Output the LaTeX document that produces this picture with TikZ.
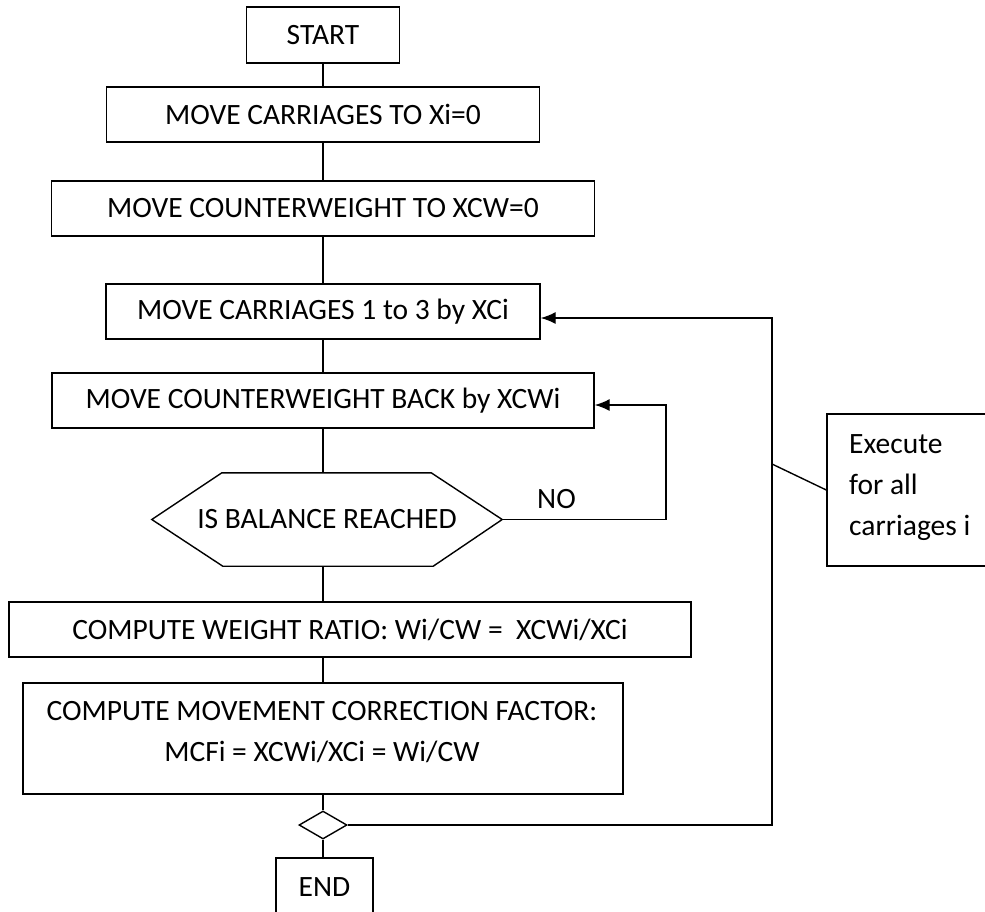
\documentclass[tikz,border=0pt]{standalone}
\usepackage{fontspec}
\setmainfont{Carlito}
\usetikzlibrary{arrows.meta,shapes.geometric}
\begin{document}
\begin{tikzpicture}[x=1pt,y=-1pt,
  every node/.style={font=\fontsize{29.5}{41}\selectfont, inner sep=0pt},
  box/.style={draw, line width=1.4pt, rectangle},
  conn/.style={line width=1.4pt},
  arr/.style={line width=1.4pt, -{Latex[length=15pt,width=12pt]}}]
\useasboundingbox (0,0) rectangle (985,911);
\clip (0,0) rectangle (985,911);
\node[box, minimum width=153pt, minimum height=56pt] (start) at (323,35) {START};
\node[box, minimum width=433pt, minimum height=55pt] (b1) at (323,114.5) {MOVE CARRIAGES TO Xi=0};
\node[box, minimum width=543pt, minimum height=55pt] (b2) at (323,208.5) {MOVE COUNTERWEIGHT TO XCW=0};
\node[box, minimum width=434pt, minimum height=55pt] (b3) at (323,311.5) {MOVE CARRIAGES 1 to 3 by XCi};
\node[box, minimum width=542pt, minimum height=55pt] (b4) at (323,400.5) {MOVE COUNTERWEIGHT BACK by XCWi};
\node[minimum width=350pt, minimum height=93pt] (hex) at (327,519.5) {IS BALANCE REACHED};
\draw[conn] (hex.west) -- ([xshift=70pt]hex.north west) -- ([xshift=-71pt]hex.north east)
  -- (hex.east) -- ([xshift=-69pt]hex.south east) -- ([xshift=71pt]hex.south west) -- cycle;
\node[box, minimum width=682pt, minimum height=55pt] (b6) at (350,629.5) {COMPUTE WEIGHT RATIO: Wi/CW =\ \ XCWi/XCi};
\node[box, minimum width=600pt, minimum height=111pt] (b7) at (323,738.5) {};
\node[align=center] (b7t) at (322,732) {COMPUTE MOVEMENT CORRECTION FACTOR:\\MCFi = XCWi/XCi = Wi/CW};
\node[draw, line width=1.4pt, shape=diamond, minimum width=48pt, minimum height=28pt] (dia) at (323,825) {};
\node[box, minimum width=97pt, minimum height=58pt] (end) at (324.5,887) {END};
\node[box, minimum width=170pt, minimum height=152pt] (call) at (912,490) {};
\node[align=left, anchor=north west] (callt) at (849,434) {Execute\\for all\\carriages i};
\node[anchor=base west] (no) at (537,508) {NO};
% coordinates
\coordinate (c1) at (772,825);
\coordinate (c2) at (772,318);
\coordinate (c3) at (666,405);
\coordinate (c4) at (772,464);
% main flow
\draw[conn] (start.south) -- (b1.north);
\draw[conn] (b1.south) -- (b2.north);
\draw[conn] (b2.south) -- (b3.north);
\draw[conn] (b3.south) -- (b4.north);
\draw[conn] (b4.south) -- (b4.south |- hex.north);
\draw[conn] (b4.south |- hex.south) -- (b4.south |- b6.north);
\draw[conn] (b7.north |- b6.south) -- (b7.north);
\draw[conn] (b7.south) -- (dia.north);
\draw[conn] (dia.south) -- (end.north -| dia.south);
% loops
\draw[arr] (hex.east) -| (c3) -- (c3 -| b4.east);
\draw[arr] (dia.east) -- (c1) -- (c2) -- (c2 -| b3.east);
\draw[conn] (c4) -- (call.west);
\end{tikzpicture}
\end{document}
